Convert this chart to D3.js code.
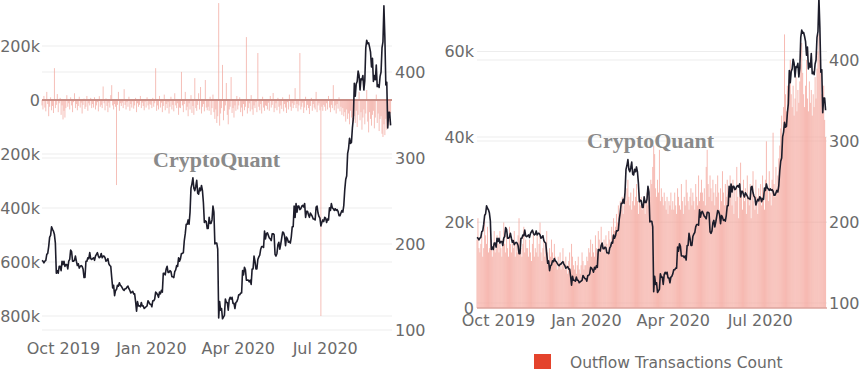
<!DOCTYPE html>
<html>
<head>
<meta charset="utf-8">
<script src="https://cdn.jsdelivr.net/npm/d3@7"></script>
<style>
  body { margin: 0; background: #fff; }
  text { font-family: "DejaVu Sans", Verdana, sans-serif; }
</style>
</head>
<body>
<div id="chart"></div>
<script>
// ETH price (USD), daily from 2019-09-09 to 2020-09-08
const priceUsd = [
  181,180,178,180,181,188,189,197,208,210,220,217,215,211,201,166,169,166,174,174,169,180,
  176,180,174,176,176,171,180,182,193,191,180,180,181,186,180,175,177,172,174,175,174,171,161,161,180,180,184,183,190,183,182,
  183,184,181,186,188,190,186,184,185,189,184,186,186,184,180,181,183,177,175,174,161,149,152,140,146,147,152,151,155,152,
  151,149,147,146,148,148,150,151,148,146,143,144,145,142,142,133,122,133,128,128,127,132,128,128,125,126,127,128,134,132,130,
  130,127,134,134,136,144,143,141,138,144,142,146,144,166,166,164,171,174,167,167,169,168,162,162,161,168,170,175,174,184,180,
  183,189,189,190,204,212,223,223,228,223,237,265,270,277,265,262,267,274,259,258,265,262,268,262,248,225,227,226,218,
  218,231,224,224,228,244,237,200,201,201,194,114,133,123,125,113,115,117,136,132,132,123,135,138,136,138,131,131,125,132,133,
  136,141,141,143,143,169,164,173,170,158,158,158,156,158,153,171,171,186,180,171,171,182,185,187,194,197,197,196,215,206,
  212,213,210,207,206,204,212,212,211,188,186,189,199,202,194,200,207,214,213,209,198,208,206,202,203,201,208,220,220,244,231,
  247,237,244,244,240,241,244,245,243,247,231,238,238,234,231,236,234,232,229,229,228,243,244,236,232,230,221,225,228,226,
  231,230,225,229,228,242,239,247,242,241,239,241,239,240,238,233,233,236,239,237,245,263,275,279,305,311,323,317,318,335,346,
  387,372,386,389,401,396,379,392,391,396,379,390,428,437,433,434,429,423,406,416,389,396,391,408,383,385,382,395,400,428,435,
  477,440,385,388,335,353,353,338
];

// exchange netflow (thousand ETH), same days
const netflowK = [
  -20,-35,15,-28,-42,30,-15,-60,-25,10,-38,-22,-48,118,-30,-18,22,-45,-12,8,-55,-20,
  -72,-40,-65,-30,18,-25,-12,-35,10,-20,-45,-8,25,-30,-15,-38,-22,12,-28,-10,-50,-18,5,-33,-25,15,-40,-12,-20,8,-30,
  -15,-28,10,-35,-20,-8,-42,14,-25,-18,-30,50,-12,-38,6,-22,-45,-10,-28,18,55,-20,-35,-15,-25,-315,-18,30,-40,-12,
  -22,-10,-30,40,-18,-35,-8,-25,12,-40,-15,-28,-5,-32,-20,8,-45,-12,-25,-18,15,-30,-10,-22,-38,-6,-28,10,-20,-35,-14,
  -18,-30,8,-25,-12,118,-40,-20,-35,15,-28,-10,-45,-22,20,-38,-15,-30,-8,-50,-25,12,-35,-18,-42,25,-20,-30,-12,-55,-28,
  -30,104,-20,-45,-15,30,-38,-25,-60,-12,-35,18,-48,-22,-55,81,-30,-40,-18,25,-35,48,-50,-25,-15,-42,74,-28,-38,
  -25,-40,12,-55,-30,20,-45,-70,-35,-85,-60,359,-95,-50,-30,130,-75,-40,-20,63,-55,-90,-35,-25,85,-48,-30,-65,-20,-40,15,
  -35,-20,10,-45,-28,-60,-15,-38,-25,233,-50,-30,-12,-42,18,-35,-55,-20,-30,-8,-45,174,-25,-38,-15,-50,12,-28,-40,-20,
  -22,-35,-10,-40,15,-28,-18,26,-45,-30,-12,-38,8,-25,-50,-20,-33,10,-42,-15,-28,-48,-8,-35,20,-25,-40,-12,-30,-18,44,
  -30,-15,-42,-20,174,-35,-25,-10,-48,-28,12,-38,-18,-30,-52,-22,8,-40,-15,-28,-35,30,-45,-20,-12,-38,-800,-25,-40,-18,
  -25,-40,-12,-35,15,-28,-45,-18,-30,55,-38,-20,-50,-15,-32,10,-42,-25,-55,-30,-60,-45,-80,-35,-70,-50,-90,-40,-65,-85,-55,
  -60,-85,-40,-100,-55,30,-75,-45,-110,-65,-35,-90,-50,37,-80,-120,-45,-70,-95,-55,-40,-105,-65,20,-85,-50,-115,-70,-60,-125,-137,
  -90,-130,-70,-110,-60,-95,-80,-50
];

// outflow transactions count (thousands), same days
const outflowK = [
  16,21,14,13,15,18,12,14,22,17,15,19,13,14,20,16,12,15,18,13,14,17,
  15,13,18,14,12,16,20,15,13,17,14,12,19,15,13,16,14,18,12,15,13,17,21,16,14,12,15,19,13,16,14,
  14,12,16,13,11,15,18,12,14,13,17,12,15,20,13,11,14,16,12,15,18,13,11,14,12,16,13,11,15,12,
  11,9,12,10,13,9,10,14,11,9,12,10,8,11,13,9,15,12,10,9,11,8,10,12,9,8,10,13,11,9,10,
  10,12,11,14,13,16,12,15,13,12,17,14,13,18,16,14,19,15,13,16,14,17,15,13,18,16,15,19,17,21,18,
  19,22,20,24,21,25,23,26,22,24,27,25,28,30,26,24,27,23,25,28,24,26,29,25,22,27,24,26,23,
  24,26,22,25,27,24,28,26,30,29,33,38,36,28,26,30,27,37,25,28,26,24,27,25,23,26,22,25,24,27,23,
  25,23,27,24,22,28,26,24,23,29,25,22,26,24,30,27,25,23,26,28,24,27,25,23,29,26,24,31,25,27,
  30,27,25,28,24,33,37,29,26,31,28,25,30,27,24,29,26,31,27,23,28,25,32,27,24,29,26,30,25,28,31,
  27,24,30,22,28,25,33,26,21,29,34,27,23,30,25,28,22,31,26,24,29,21,27,32,25,23,30,26,22,28,
  26,29,24,31,27,23,30,39,28,25,32,27,24,30,41,29,26,33,28,31,35,38,42,45,40,47,64,50,46,52,48,
  55,58,50,47,52,45,49,54,46,51,48,53,57,62,55,50,47,52,58,49,46,53,48,51,45,50,47,54,49,56,60,
  64,58,55,50,46,52,44,40
];

const monthTicks = [new Date(2019, 9, 1), new Date(2020, 0, 1), new Date(2020, 3, 1), new Date(2020, 6, 1)];
const netflowTicks = [200, 0, -200, -400, -600, -800];
const outflowTicks = [0, 20, 40, 60];
const priceTicks = [100, 200, 300, 400];

const startDate = new Date(2019, 8, 9);
const days = priceUsd.map((_, i) => d3.timeDay.offset(startDate, i));
const endDate = days[days.length - 1];

const colors = {
  price: "#1d1d2b",
  netflow: "#f1a59c",
  outflow: "#f4aaa1",
  legend: "#e4432c",
  grid: "#ededed",
  text: "#6a6a6a",
  mark: "#8a8a8a"
};

const svg = d3.select("#chart")
  .append("svg")
  .attr("width", 865)
  .attr("height", 372);

const kFormat = d => d === 0 ? "0" : (d < 0 ? "\u2212" + (-d) : d) + "k";

function styleAxis(g) {
  g.select(".domain").remove();
  g.selectAll("text")
    .attr("fill", colors.text)
    .style("font-size", "16px");
}

function gridLines(y, ticks, x0, x1) {
  svg.append("g")
    .selectAll("line")
    .data(ticks)
    .enter()
    .append("line")
    .attr("x1", x0)
    .attr("x2", x1)
    .attr("y1", d => y(d))
    .attr("y2", d => y(d))
    .attr("stroke", colors.grid)
    .attr("stroke-width", 1);
}

// ---------- left panel: netflow + price ----------
const xL = d3.scaleTime().domain([startDate, endDate]).range([42, 390.6]);
const yNet = d3.scaleLinear().domain([-800, 200]).range([316, 46]);
const yPriceL = d3.scaleLinear().domain([100, 400]).range([330, 72]);

gridLines(yNet, netflowTicks.filter(d => d !== 0), 42, 392);
gridLines(yPriceL, priceTicks, 42, 392);

svg.append("text")
  .attr("x", 153).attr("y", 167)
  .style("font-family", "'Liberation Serif', serif")
  .style("font-weight", "bold")
  .style("font-size", "22px")
  .attr("fill", colors.mark)
  .text("CryptoQuant");

const barW = xL(days[1]) - xL(days[0]);

svg.append("g")
  .selectAll("rect")
  .data(netflowK)
  .enter()
  .append("rect")
  .attr("x", (d, i) => xL(days[i]) - barW / 2)
  .attr("width", barW)
  .attr("y", d => yNet(Math.max(0, d)))
  .attr("height", d => Math.abs(yNet(d) - yNet(0)))
  .attr("fill", colors.netflow)
  .attr("opacity", 0.75);

svg.append("line")
  .attr("x1", 42).attr("x2", 392)
  .attr("y1", yNet(0)).attr("y2", yNet(0))
  .attr("stroke", "#c98e87")
  .attr("stroke-width", 2);

const lineL = d3.line()
  .x((d, i) => xL(days[i]))
  .y(d => yPriceL(d));

svg.append("path")
  .datum(priceUsd)
  .attr("fill", "none")
  .attr("stroke", colors.price)
  .attr("stroke-width", 1.6)
  .attr("stroke-linejoin", "round")
  .attr("d", lineL);

svg.append("g")
  .attr("transform", "translate(40,0)")
  .call(d3.axisLeft(yNet).tickValues(netflowTicks).tickFormat(kFormat).tickSize(0).tickPadding(0))
  .call(styleAxis);

svg.append("g")
  .attr("transform", "translate(395,0)")
  .call(d3.axisRight(yPriceL).tickValues(priceTicks).tickSize(0).tickPadding(0))
  .call(styleAxis);

svg.append("g")
  .attr("transform", "translate(0,343)")
  .call(d3.axisBottom(xL).tickValues(monthTicks).tickFormat(d3.timeFormat("%b %Y")).tickSize(0).tickPadding(0))
  .call(styleAxis);

// ---------- right panel: outflow count + price ----------
const xR = d3.scaleTime().domain([startDate, endDate]).range([477, 825.6]);
const yOut = d3.scaleLinear().domain([0, 60]).range([308, 51.5]);
const yPriceR = d3.scaleLinear().domain([100, 400]).range([303, 60]);

gridLines(yOut, outflowTicks.filter(d => d !== 0), 477, 827);
gridLines(yPriceR, priceTicks, 477, 827);

const barWR = xR(days[1]) - xR(days[0]);

svg.append("g")
  .selectAll("rect")
  .data(outflowK)
  .enter()
  .append("rect")
  .attr("x", (d, i) => xR(days[i]) - barWR / 2)
  .attr("width", barWR)
  .attr("y", d => yOut(d))
  .attr("height", d => yOut(0) - yOut(d))
  .attr("fill", colors.outflow)
  .attr("opacity", 0.85);

svg.append("line")
  .attr("x1", 477).attr("x2", 827)
  .attr("y1", yOut(0)).attr("y2", yOut(0))
  .attr("stroke", "#dca59e")
  .attr("stroke-width", 1.5);

svg.append("text")
  .attr("x", 587).attr("y", 148)
  .style("font-family", "'Liberation Serif', serif")
  .style("font-weight", "bold")
  .style("font-size", "22px")
  .attr("fill", colors.mark)
  .text("CryptoQuant");

const lineR = d3.line()
  .x((d, i) => xR(days[i]))
  .y(d => yPriceR(d));

svg.append("path")
  .datum(priceUsd)
  .attr("fill", "none")
  .attr("stroke", colors.price)
  .attr("stroke-width", 1.6)
  .attr("stroke-linejoin", "round")
  .attr("d", lineR);

svg.append("g")
  .attr("transform", "translate(474,0)")
  .call(d3.axisLeft(yOut).tickValues(outflowTicks).tickFormat(kFormat).tickSize(0).tickPadding(0))
  .call(styleAxis);

svg.append("g")
  .attr("transform", "translate(829,0)")
  .call(d3.axisRight(yPriceR).tickValues(priceTicks).tickSize(0).tickPadding(0))
  .call(styleAxis);

svg.append("g")
  .attr("transform", "translate(0,315)")
  .call(d3.axisBottom(xR).tickValues(monthTicks).tickFormat(d3.timeFormat("%b %Y")).tickSize(0).tickPadding(0))
  .call(styleAxis);

// legend
svg.append("rect")
  .attr("x", 534).attr("y", 354)
  .attr("width", 17).attr("height", 15)
  .attr("fill", colors.legend);

svg.append("text")
  .attr("x", 570).attr("y", 368)
  .attr("fill", colors.text)
  .style("font-size", "15.5px")
  .text("Outflow Transactions Count");
</script>
</body>
</html>
